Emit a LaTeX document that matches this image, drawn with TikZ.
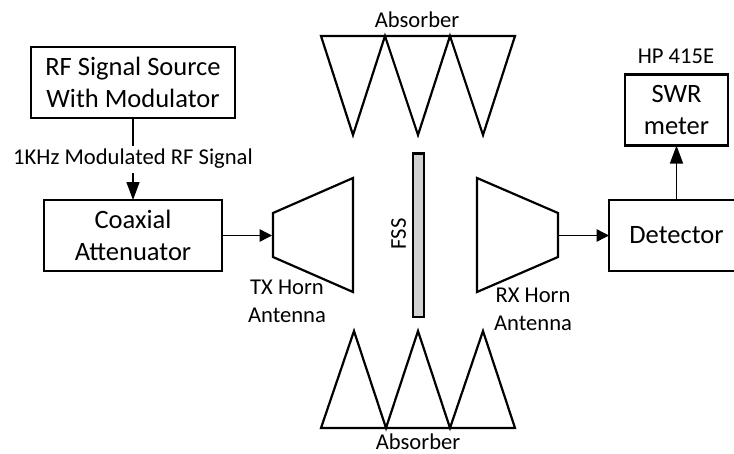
\documentclass[tikz,border=0pt]{standalone}
\usepackage{fontspec}
\setmainfont{Carlito}
\usetikzlibrary{arrows.meta}
\tikzset{
  blockbox/.style={draw=black,line width=2.2pt,inner sep=0pt,outer sep=0pt,align=center,font=\fontsize{26.5}{32.5}\selectfont},
  smalltext/.style={inner sep=0pt,align=center,font=\fontsize{22.6}{28}\selectfont},
  shapeline/.style={draw=black,line width=2.2pt,line join=miter},
  conn/.style={draw=black,line width=1.5pt,-{Triangle[length=12.5pt,width=12.5pt]}},
  vconn/.style={draw=black,line width=1.5pt,-{Triangle[length=18pt,width=13pt]}}
}
\begin{document}
\begin{tikzpicture}[x=1pt,y=-1pt]
\useasboundingbox (0,0) rectangle (734,453);
\node[blockbox,minimum width=204pt,minimum height=71pt] (rf) at (133,82.5) {RF Signal Source\\With Modulator};
\node[blockbox,minimum width=178pt,minimum height=71pt] (coax) at (133,235.5) {Coaxial\\Attenuator};
\node[blockbox,minimum width=135pt,minimum height=71pt] (det) at (676.5,235.5) {Detector};
\node[blockbox,minimum width=103pt,minimum height=71pt] (swr) at (676.5,110) {SWR\\meter};
\coordinate (txin) at (272,235.5);
\coordinate (rxout) at (558,235.5);
\draw[shapeline] (273,213) -- (353,178) -- (353,292) -- (273,257) -- cycle;
\draw[shapeline] (477,178) -- (558,213) -- (558,257) -- (477,292) -- cycle;
\draw[shapeline] (321,36) -- (515,36) -- (483,135) -- (450,36) -- (418,135) -- (385,36) -- (353,135) -- cycle;
\draw[shapeline] (321,428) -- (515,428) -- (483,331) -- (450,428) -- (418,331) -- (386,428) -- (354,331) -- cycle;
\draw[shapeline,fill=black!18] (413,153.5) rectangle (424,317);
\draw[vconn] (rf.south) -- (coax.north) node[pos=0.5,smalltext,fill=white,inner ysep=0pt,inner xsep=1pt,text height=18pt,text depth=9pt,yshift=-0.5pt] (sig) {1KHz Modulated RF Signal};
\draw[conn] (coax.east |- txin) -- (txin);
\draw[conn] (rxout) -- (det.west |- rxout);
\draw[vconn] (det.north) -- (swr.south);
\node[smalltext] (abst) at (417,20) {Absorber};
\node[smalltext] (absb) at (418,442) {Absorber};
\node[smalltext] (hp) at (676,56) {HP 415E};
\node[smalltext,rotate=90] (fss) at (398.5,234) {FSS};
\node[smalltext] (tx) at (287,301) {TX Horn\\Antenna};
\node[smalltext] (rx) at (533,309) {RX Horn\\Antenna};
\end{tikzpicture}
\end{document}
